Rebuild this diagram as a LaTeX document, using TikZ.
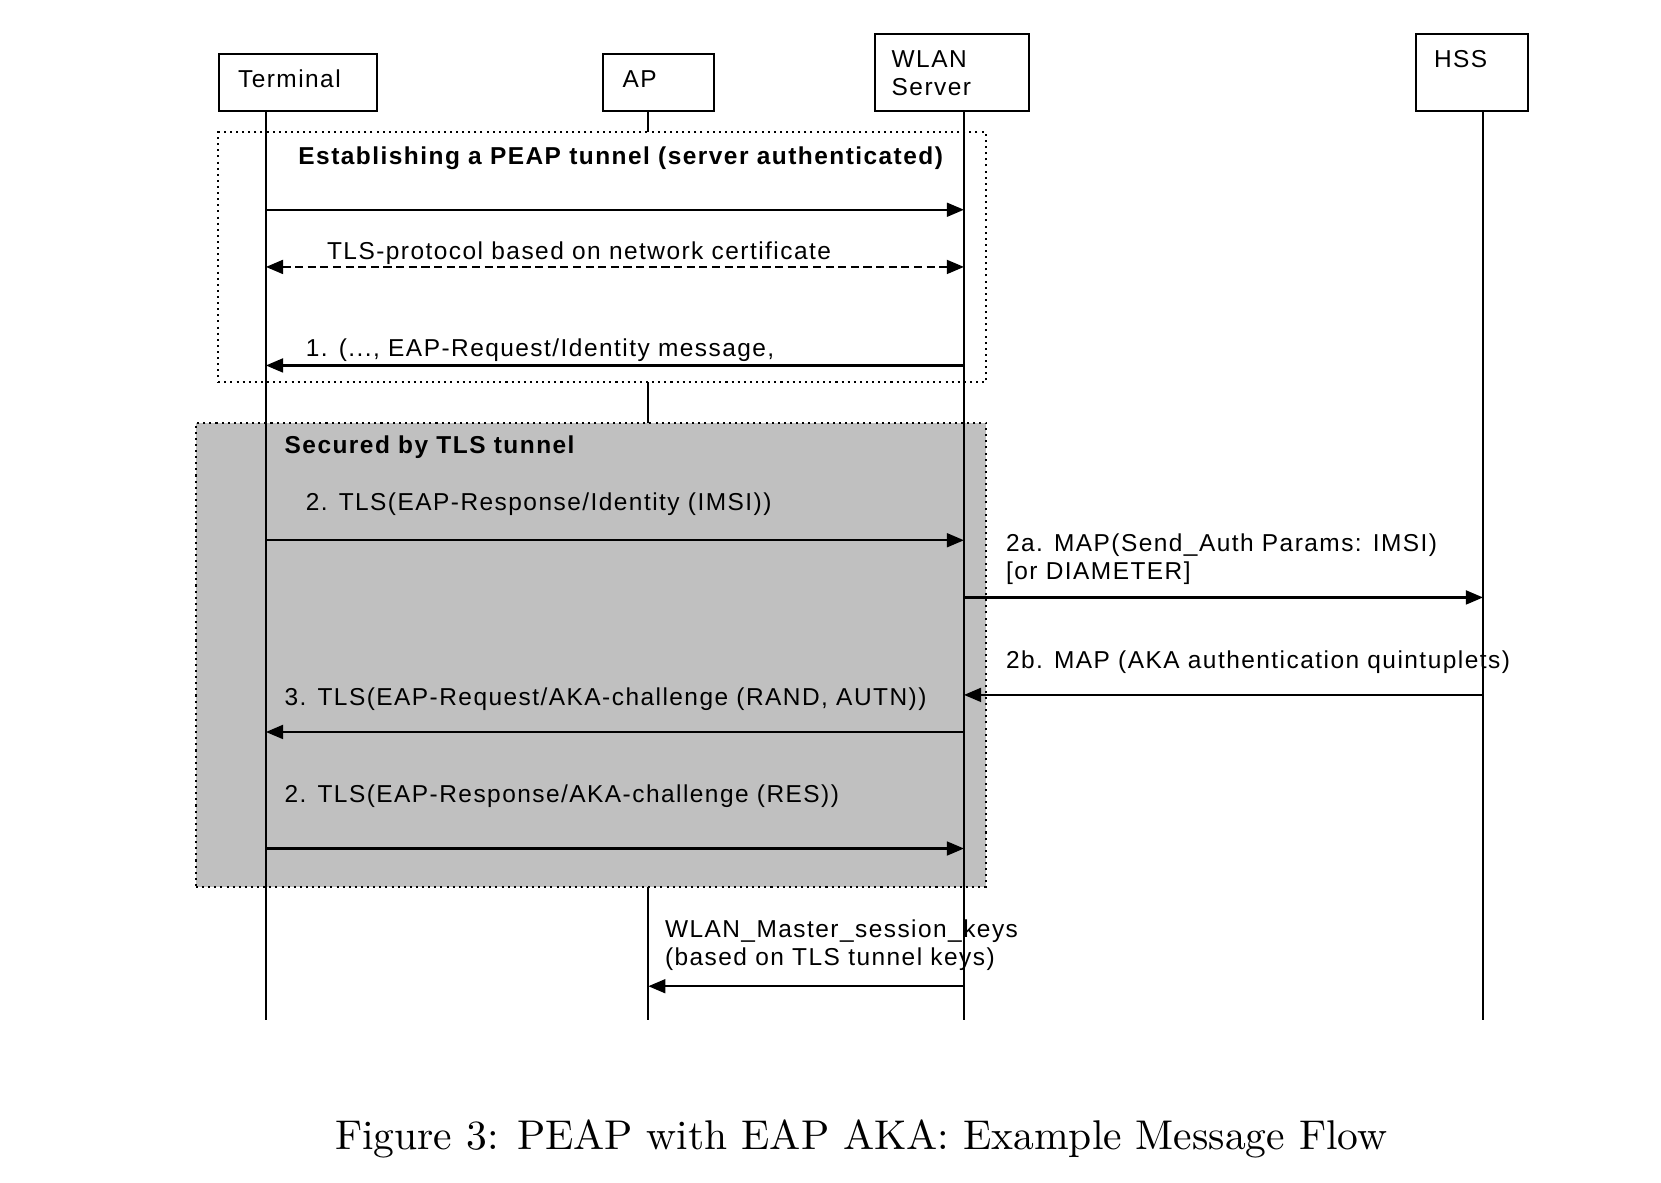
\documentclass[tikz,border=0pt]{standalone}
\usepackage{fontspec}
\newfontfamily\diagfont[LetterSpace=6]{Liberation Sans}
\newfontfamily\headfont[LetterSpace=6]{Liberation Sans}
\usepackage{tikz}
\usetikzlibrary{arrows.meta, positioning, fit}
\definecolor{tunnelgray}{RGB}{192,192,192}

\begin{document}
\begin{tikzpicture}[x=0.26pt,y=-0.26pt,>={Triangle[length=4.2pt,width=3.4pt]},
      every fit/.style={draw,line width=0.5pt,inner sep=0pt},
      life/.style={line width=0.45pt},
      msg/.style={line width=0.55pt,->},
      txt/.style={anchor=base west,inner sep=0pt,align=left,
        font=\diagfont\fontsize{6}{6.8}\selectfont},
      head/.style={anchor=base west,inner sep=0pt,
        font=\headfont\bfseries\fontsize{6}{7}\selectfont},
      frame/.style={densely dotted,line width=0.45pt}]
  \useasboundingbox (0,0) rectangle (1568,1116);
  % lifelines
  \coordinate (term) at (251,105);
  \coordinate (ap) at (612,105);
  \coordinate (wlan) at (910,105);
  \coordinate (hss) at (1400,105);
  \coordinate (bottom) at (0,963);
  \draw[life] (ap) -- (ap |- bottom);
  % phases
  \node[frame, fill=white, fit={(206,125) (931,361)}] (peap) {};
  \node[frame, fill=tunnelgray, fit={(185,399) (931,837)}] (tunnel) {};
  \draw[life] (term) -- (term |- bottom);
  \draw[life] (wlan) -- (wlan |- bottom);
  \draw[life] (hss) -- (hss |- bottom);
  % actors
  \node[fit={(207,51) (356,105)}] (termbox) {};
  \node[txt] (termlbl) at (224,83) {Terminal};
  \node[fit={(569,51) (674,105)}] (apbox) {};
  \node[txt] (aplbl) at (587,83) {AP};
  \node[fit={(826,32) (971,105)}] (wlanbox) {};
  \node[txt] (wlanlbl) at (841,90) {WLAN\\Server};
  \node[fit={(1337,32) (1442,105)}] (hssbox) {};
  \node[txt] (hsslbl) at (1353,64) {HSS};

  % PEAP tunnel set-up
  \node[head] (peaphead) at (281,155) {Establishing a PEAP tunnel (server authenticated)};
  \coordinate (m1) at (0,198);
  \draw[msg] (m1 -| term) -- (m1 -| wlan);
  \coordinate (m2) at (0,252);
  \draw[msg,<->,dash pattern=on 2pt off 1.1pt] (m2 -| term) -- (m2 -| wlan);
  \node[txt] (tlslbl) at (308,245) {TLS-protocol based on network certificate};
  \coordinate (m3) at (0,345);
  \draw[msg] (m3 -| wlan) -- (m3 -| term);
  \node[txt] (idreq) at (288,337) {1. (..., EAP-Request/Identity message,};

  % inside the TLS tunnel
  \node[head] (tunnelhead) at (268,428) {Secured by TLS tunnel};
  \node[txt] (idresp) at (288,482) {2. TLS(EAP-Response/Identity (IMSI))};
  \coordinate (m4) at (0,510);
  \draw[msg] (m4 -| term) -- (m4 -| wlan);
  \node[txt] (mapreq) at (949,547) {2a. MAP(Send\_Auth Params: IMSI)\\{}[or DIAMETER]};
  \coordinate (m5) at (0,564);
  \draw[msg] (m5 -| wlan) -- (m5 -| hss);
  \node[txt] (mapresp) at (949,631) {2b. MAP (AKA authentication quintuplets)};
  \coordinate (m6) at (0,656);
  \draw[msg] (m6 -| hss) -- (m6 -| wlan);
  \node[txt] (akareq) at (268,666) {3. TLS(EAP-Request/AKA-challenge (RAND, AUTN))};
  \coordinate (m7) at (0,691);
  \draw[msg] (m7 -| wlan) -- (m7 -| term);
  \node[txt] (akaresp) at (268,758) {2. TLS(EAP-Response/AKA-challenge (RES))};
  \coordinate (m8) at (0,801);
  \draw[msg] (m8 -| term) -- (m8 -| wlan);

  % keys to the AP
  \node[txt] (keys) at (627,911) {WLAN\_Master\_session\_keys\\(based on TLS tunnel keys)};
  \coordinate (m9) at (0,931);
  \draw[msg] (m9 -| wlan) -- (m9 -| ap);

  \node[anchor=base,font=\fontsize{10.2}{12}\selectfont] (caption) at (813,1085)
    {Figure 3: PEAP with EAP AKA: Example Message Flow};
\end{tikzpicture}
\end{document}
